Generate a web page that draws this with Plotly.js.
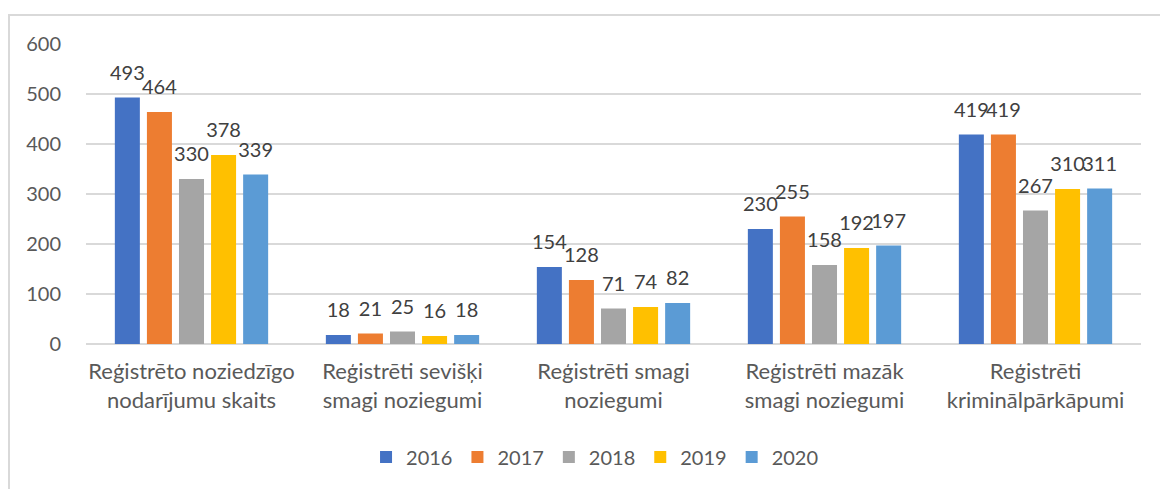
<!DOCTYPE html>
<html>
<head>
<meta charset="utf-8">
<script src="https://cdn.plot.ly/plotly-3.0.1.min.js"></script>
<style>
html,body{margin:0;padding:0;overflow:hidden;background:#fff;}
#wrap{position:relative;width:1160px;height:489px;overflow:hidden;}
#frame{position:absolute;left:8px;top:14px;width:1200px;height:520px;border:2px solid #d9d9d9;box-sizing:border-box;pointer-events:none;}
#chart{position:absolute;left:0;top:0;width:1160px;height:489px;}
</style>
</head>
<body>
<div id="wrap"><div id="frame"></div><div id="chart"></div></div>
<script>
const categories = [
  "Reģistrēto noziedzīgo<br>nodarījumu skaits",
  "Reģistrēti sevišķi<br>smagi noziegumi",
  "Reģistrēti smagi<br>noziegumi",
  "Reģistrēti mazāk<br>smagi noziegumi",
  "Reģistrēti<br>kriminālpārkāpumi"
];
const years = ["2016", "2017", "2018", "2019", "2020"];
const v2016 = [493, 18, 154, 230, 419];
const v2017 = [464, 21, 128, 255, 419];
const v2018 = [330, 25, 71, 158, 267];
const v2019 = [378, 16, 74, 192, 310];
const v2020 = [339, 18, 82, 197, 311];
const colors = ["#4472C4", "#ED7D31", "#A5A5A5", "#FFC000", "#5B9BD5"];
const series = [v2016, v2017, v2018, v2019, v2020];

const FONT = "Lato, 'Open Sans', sans-serif";
const bars = series.map((vals, i) => ({
  type: "bar",
  name: years[i],
  offsetgroup: "g" + i,
  x: categories,
  y: vals,
  marker: {color: colors[i]},
  hoverinfo: "none"
}));
const labels = series.map((vals, i) => ({
  type: "scatter",
  mode: "markers+text",
  orientation: "v",
  offsetgroup: "g" + i,
  x: categories,
  y: vals,
  text: vals.map(String),
  textposition: "top center",
  textfont: {family: FONT, size: 20, color: "#404040"},
  marker: {size: 19, opacity: 0, color: colors[i]},
  cliponaxis: false,
  showlegend: false,
  hoverinfo: "none"
}));

const layout = {
  width: 1160,
  height: 489,
  margin: {l: 86, r: 19, t: 44, b: 145},
  paper_bgcolor: "rgba(0,0,0,0)",
  plot_bgcolor: "rgba(0,0,0,0)",
  barmode: "group",
  bargap: 0.24,
  bargroupgap: 0.22,
  scattermode: "group",
  scattergap: 0.24,
  font: {family: FONT, color: "#595959", size: 20},
  showlegend: true,
  legend: {
    orientation: "h",
    x: 0.4825, xanchor: "center",
    y: -0.377, yanchor: "middle",
    font: {family: FONT, size: 20, color: "#595959"},
    traceorder: "normal"
  },
  xaxis: {
    type: "category",
    showgrid: false,
    showline: false,
    zeroline: false,
    ticks: "",
    tickfont: {family: FONT, size: 22, color: "#595959"},
    ticklabelstandoff: 12
  },
  yaxis: {
    range: [0, 600],
    dtick: 100,
    tick0: 0,
    showgrid: true,
    gridcolor: "#d9d9d9",
    gridwidth: 1.5,
    zeroline: true,
    zerolinecolor: "#d9d9d9",
    zerolinewidth: 1.5,
    showline: false,
    ticks: "",
    tickfont: {family: FONT, size: 20, color: "#595959"},
    ticklabelstandoff: 24
  }
};

Plotly.newPlot("chart", bars.concat(labels), layout, {staticPlot: true, displayModeBar: false});
</script>
</body>
</html>
